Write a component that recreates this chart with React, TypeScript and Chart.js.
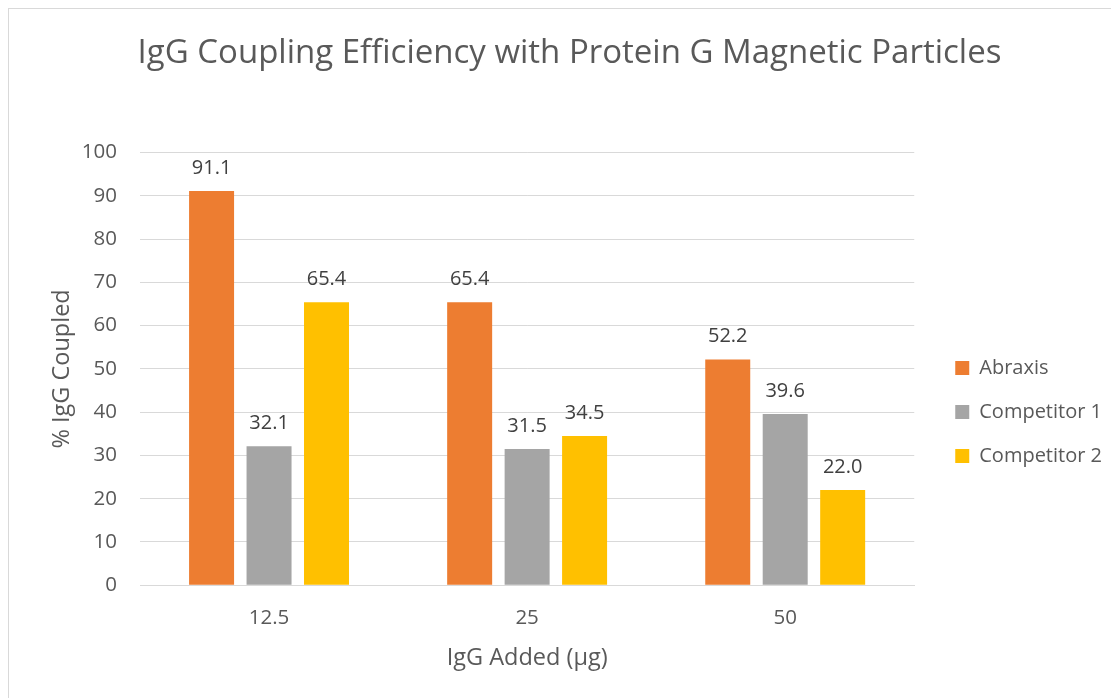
import React, { useEffect, useRef } from "react";
import { Chart, registerables } from "chart.js";

Chart.register(...registerables);

const categories = ["12.5", "25", "50"];
const seriesNames = ["Abraxis", "Competitor 1", "Competitor 2"];
const abraxis = [91.1, 65.4, 52.2];
const competitor1 = [32.1, 31.5, 39.6];
const competitor2 = [65.4, 34.5, 22.0];
const colors = ["#ED7D31", "#A5A5A5", "#FFC000"];
const FONT = "'Open Sans', 'DejaVu Sans', sans-serif";

const valueLabels = {
  id: "valueLabels",
  afterDatasetsDraw(chart: any) {
    const ctx = chart.ctx;
    ctx.save();
    ctx.fillStyle = "#404040";
    ctx.font = `20px ${FONT}`;
    ctx.textAlign = "center";
    ctx.textBaseline = "alphabetic";
    chart.data.datasets.forEach((ds: any, i: number) => {
      const meta = chart.getDatasetMeta(i);
      meta.data.forEach((bar: any, j: number) => {
        ctx.fillText(Number(ds.data[j]).toFixed(1), bar.x, bar.y - 17);
      });
    });
    ctx.restore();
  },
};

export default function App() {
  const ref = useRef<HTMLCanvasElement>(null);
  useEffect(() => {
    const data = [abraxis, competitor1, competitor2];
    const chart = new Chart(ref.current!, {
      type: "bar",
      data: {
        labels: categories,
        datasets: seriesNames.map((n, i) => ({
          label: n,
          data: data[i],
          backgroundColor: colors[i],
          categoryPercentage: 0.668,
          barPercentage: 0.783,
        })),
      },
      options: {
        animation: false,
        responsive: false,
        maintainAspectRatio: false,
        layout: { padding: { left: 18, right: 7, bottom: 26, top: 0 } },
        plugins: {
          title: {
            display: true,
            text: "IgG Coupling Efficiency with Protein G Magnetic Particles",
            color: "#595959",
            font: { family: FONT, size: 33, weight: "normal" },
            padding: { top: 25, bottom: 79 },
          },
          legend: {
            position: "right",
            title: { display: true, text: "", font: { size: 10 }, padding: { top: 131, bottom: 0 } },
            labels: {
              color: "#595959",
              font: { family: FONT, size: 20 },
              boxWidth: 14,
              boxHeight: 14,
              padding: 24,
            },
          },
          tooltip: { enabled: false },
        },
        scales: {
          x: {
            grid: { display: false },
            border: { color: "#D9D9D9" },
            ticks: { color: "#595959", font: { family: FONT, size: 20.5 }, padding: 13 },
            title: {
              display: true,
              text: "IgG Added (µg)",
              color: "#595959",
              font: { family: FONT, size: 23.5 },
              padding: { top: 0, bottom: 0 },
            },
          },
          y: {
            min: 0,
            max: 100,
            ticks: { stepSize: 10, color: "#595959", font: { family: FONT, size: 20.5 }, padding: 23 },
            grid: { color: "#D9D9D9", drawTicks: false },
            border: { display: false },
            title: {
              display: true,
              text: "% IgG Coupled",
              color: "#595959",
              font: { family: FONT, size: 23.5 },
              padding: { top: 21, bottom: 0 },
            },
            afterFit: (s: any) => {
              s.width = 113;
            },
          },
          gap: {
            type: "linear",
            position: "right",
            display: true,
            ticks: { display: false },
            grid: { display: false },
            border: { display: false },
            afterFit: (s: any) => {
              s.width = 17;
            },
          },
        },
      },
      plugins: [valueLabels],
    });
    return () => chart.destroy();
  }, []);
  return (
    <div
      style={{
        width: 1111,
        height: 690,
        boxSizing: "border-box",
        borderTop: "1px solid #D9D9D9",
        borderLeft: "1px solid #D9D9D9",
        background: "#fff",
      }}
    >
      <canvas ref={ref} width={1110} height={689} style={{ display: "block" }} />
    </div>
  );
}
